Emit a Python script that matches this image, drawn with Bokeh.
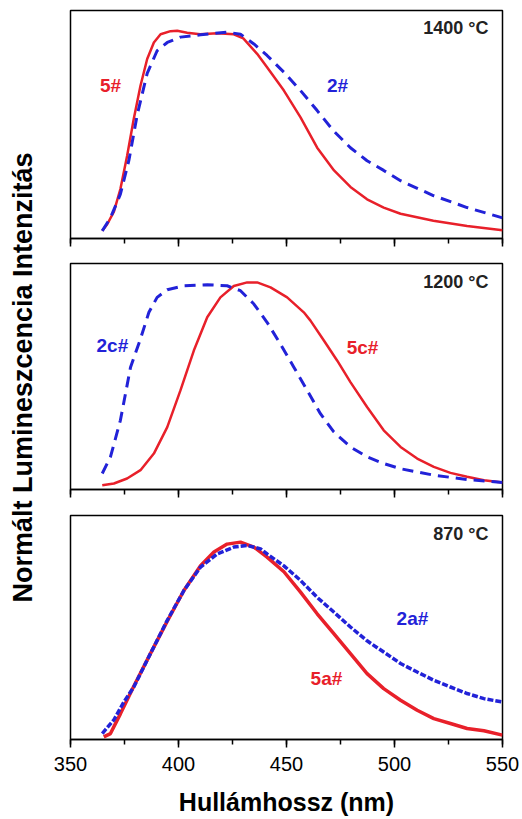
import numpy as np
from bokeh.plotting import figure
from bokeh.layouts import column, row
from bokeh.models import Range1d, SingleIntervalTicker, Label, CustomJSTickFormatter
from bokeh.embed import file_html
from bokeh.resources import INLINE

FONT = "Liberation Sans"
RED = "#e8202a"
BLUE = "#2222d8"

x_ticks = [350, 400, 450, 500, 550]
x_label = "Hullámhossz (nm)"
y_label = "Normált Lumineszcencia Intenzitás"
temps = ["1400 °C", "1200 °C", "870 °C"]
names_top = ["5#", "2#"]
names_mid = ["5c#", "2c#"]
names_bot = ["5a#", "2a#"]

# Panel 1 (1400 °C)
x_5 = [364.7, 367.0, 370.1, 373.1, 376.2, 379.3, 382.4, 385.5, 388.6, 391.7, 396.3, 399.4,
       404.0, 410.0, 418.0, 425.6, 430.0, 436.4, 441.0, 448.8, 456.5, 464.2, 472.0, 479.6,
       487.3, 495.0, 502.8, 518.0, 533.6, 550.0]
y_5 = [0.037, 0.069, 0.13, 0.24, 0.40, 0.58, 0.74, 0.87, 0.95, 0.99, 1.005, 1.007,
       0.997, 0.99, 0.995, 0.99, 0.97, 0.895, 0.83, 0.717, 0.587, 0.44, 0.33, 0.25,
       0.19, 0.15, 0.12, 0.086, 0.061, 0.04]
x_2 = [364.7, 368.5, 373.1, 377.0, 380.9, 385.5, 390.1, 394.8, 400.9, 410.2, 422.5, 428.7,
       434.9, 441.0, 448.8, 456.5, 464.2, 471.9, 479.6, 487.3, 495.0, 502.8, 518.2, 533.6, 550.0]
y_2 = [0.037, 0.10, 0.215, 0.377, 0.60, 0.80, 0.91, 0.95, 0.976, 0.987, 1.0, 0.99,
       0.943, 0.887, 0.806, 0.717, 0.62, 0.52, 0.44, 0.377, 0.33, 0.28, 0.207, 0.15, 0.10]

# Panel 2 (1200 °C)
x_5c = [364.7, 370.1, 376.2, 382.4, 388.6, 394.8, 400.9, 407.1, 413.3, 419.4, 425.6, 431.8,
        436.4, 442.6, 450.3, 458.0, 461.1, 467.3, 473.5, 479.6, 487.3, 495.0, 502.8, 510.5,
        518.2, 525.9, 533.6, 541.4, 550.0]
y_5c = [0.02, 0.029, 0.053, 0.093, 0.173, 0.30, 0.477, 0.669, 0.829, 0.925, 0.98, 0.997,
        0.997, 0.973, 0.925, 0.853, 0.813, 0.717, 0.62, 0.517, 0.397, 0.285, 0.205, 0.149,
        0.109, 0.08, 0.061, 0.045, 0.034]
x_2c = [364.7, 368.5, 373.1, 377.8, 382.4, 386.3, 390.1, 394.8, 402.5, 413.3, 422.5, 428.7,
        434.9, 441.0, 447.2, 453.4, 459.6, 465.7, 471.9, 479.6, 487.3, 495.0, 502.8, 518.2,
        533.6, 550.0]
y_2c = [0.077, 0.157, 0.333, 0.589, 0.725, 0.853, 0.925, 0.962, 0.981, 0.986, 0.981, 0.957,
        0.893, 0.805, 0.70, 0.589, 0.477, 0.365, 0.277, 0.205, 0.157, 0.125, 0.10, 0.069,
        0.048, 0.034]

# Panel 3 (870 °C)
x_5a = [365.4, 368.5, 373.1, 379.3, 387.0, 394.8, 402.5, 410.2, 416.4, 422.5, 428.7, 434.9,
        441.0, 448.8, 456.5, 464.2, 471.9, 479.6, 487.3, 495.0, 502.8, 510.5, 518.2, 525.9,
        533.6, 541.4, 550.0]
y_5a = [0.013, 0.03, 0.13, 0.27, 0.435, 0.60, 0.755, 0.88, 0.95, 0.99, 1.0, 0.975,
        0.924, 0.85, 0.747, 0.637, 0.536, 0.435, 0.334, 0.258, 0.199, 0.148, 0.106, 0.081,
        0.056, 0.044, 0.022]
x_2a = [364.7, 370.1, 374.7, 379.3, 387.0, 394.8, 402.5, 410.2, 417.9, 425.6, 431.8, 438.0,
        441.0, 448.8, 456.5, 464.2, 471.9, 479.6, 487.3, 495.0, 502.8, 510.5, 518.2, 525.9,
        533.6, 541.4, 550.0]
y_2a = [0.03, 0.10, 0.19, 0.266, 0.435, 0.604, 0.755, 0.874, 0.94, 0.975, 0.983, 0.966,
        0.94, 0.88, 0.806, 0.72, 0.646, 0.57, 0.50, 0.443, 0.385, 0.342, 0.30, 0.266,
        0.233, 0.207, 0.19]


def make_panel(height, top, bottom, ymax, show_labels):
    p = figure(width=477, height=height, output_backend="svg", toolbar_location=None,
               x_range=Range1d(350, 550), y_range=Range1d(0, ymax),
               min_border_left=25, min_border_right=20,
               min_border_top=top, min_border_bottom=bottom)
    p.grid.visible = False
    p.yaxis.visible = False
    p.outline_line_color = "black"
    p.outline_line_width = 1.5
    p.outline_line_alpha = 1
    ax = p.xaxis[0]
    ax.ticker = SingleIntervalTicker(interval=50, num_minor_ticks=2)
    ax.major_tick_out = 8
    ax.major_tick_in = 0
    ax.minor_tick_out = 5
    ax.minor_tick_in = 0
    ax.axis_line_width = 1.5
    ax.major_tick_line_width = 1.5
    ax.minor_tick_line_width = 1.5
    ax.axis_line_color = "black"
    ax.major_tick_line_color = "black"
    ax.minor_tick_line_color = "black"
    if show_labels:
        ax.major_label_text_font = FONT
        ax.major_label_text_font_size = "20px"
        ax.major_label_text_color = "black"
        ax.major_label_standoff = 9
        ax.axis_label = x_label
        ax.axis_label_text_font = FONT
        ax.axis_label_text_font_size = "25px"
        ax.axis_label_text_font_style = "bold"
        ax.axis_label_text_color = "black"
        ax.axis_label_standoff = 14
    else:
        ax.formatter = CustomJSTickFormatter(code="return ''")
        ax.major_label_text_font_size = "4px"
        ax.major_label_standoff = 0
    return p


def add_label(p, x, y, text, color, size="19px", align="center"):
    p.add_layout(Label(x=x, y=y, text=text, text_color=color, text_font=FONT,
                       text_font_style="bold", text_font_size=size,
                       text_align=align, text_baseline="middle"))


p1 = make_panel(250, 10, 12, 1.105, False)
p1.line(x_5, y_5, line_color=RED, line_width=2.5)
p1.line(x_2, y_2, line_color=BLUE, line_width=3, line_dash="11 7")
add_label(p1, 368.5, 0.742, names_top[0], RED)
add_label(p1, 473.6, 0.742, names_top[1], BLUE)
add_label(p1, 543.5, 1.018, temps[0], "#222222", size="18px", align="right")

p2 = make_panel(252, 13, 13, 1.088, False)
p2.line(x_5c, y_5c, line_color=RED, line_width=2.5)
p2.line(x_2c, y_2c, line_color=BLUE, line_width=3, line_dash="11 7")
add_label(p2, 369.4, 0.693, names_mid[1], BLUE)
add_label(p2, 485.2, 0.683, names_mid[0], RED)
add_label(p2, 543.5, 1.0, temps[1], "#222222", size="18px", align="right")

p3 = make_panel(317, 13, 80, 1.135, True)
p3.line(x_5a, y_5a, line_color=RED, line_width=3.5)
p3.line(x_2a, y_2a, line_color=BLUE, line_width=3.5, line_dash="6 2")
add_label(p3, 508.3, 0.614, names_bot[1], BLUE)
add_label(p3, 468.5, 0.31, names_bot[0], RED)
add_label(p3, 543.5, 1.039, temps[2], "#222222", size="18px", align="right")

pl = figure(width=45, height=819, output_backend="svg", toolbar_location=None,
            x_range=Range1d(0, 1), y_range=Range1d(0, 819), min_border=0)
pl.axis.visible = False
pl.grid.visible = False
pl.outline_line_color = None
pl.add_layout(Label(x=0.49, y=442, text=y_label, angle=np.pi / 2, text_color="black",
                    text_font=FONT, text_font_style="bold", text_font_size="27px",
                    text_align="center", text_baseline="middle"))

layout = row(pl, column(p1, p2, p3))

open("out.html", "w").write(file_html(layout, INLINE))
